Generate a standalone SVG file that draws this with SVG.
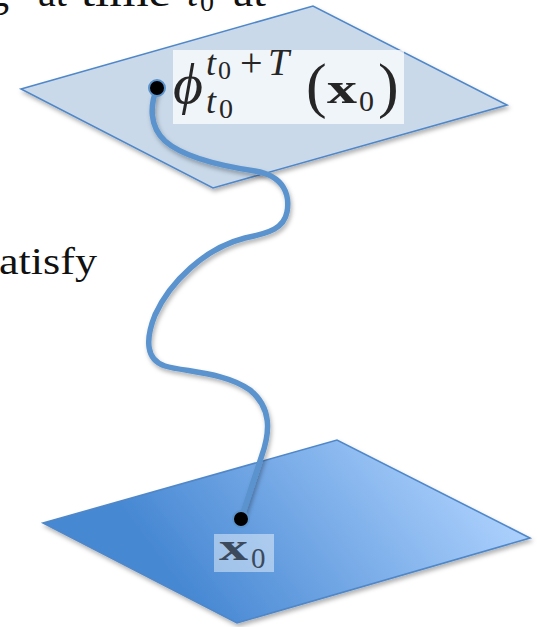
<svg xmlns="http://www.w3.org/2000/svg" width="538" height="627" viewBox="0 0 538 627">
  <defs>
    <linearGradient id="gBottom" gradientUnits="userSpaceOnUse" x1="210" y1="625" x2="450" y2="445">
      <stop offset="0" stop-color="#4788d3"/>
      <stop offset="1" stop-color="#aacffc"/>
    </linearGradient>
    <filter id="shadow" x="-10%" y="-10%" width="130%" height="130%">
      <feDropShadow dx="1.5" dy="3" stdDeviation="2" flood-color="#000" flood-opacity="0.3"/>
    </filter>
  </defs>
  <style>
    .plane { stroke: #4f87c8; stroke-width: 1.6; stroke-linejoin: miter; }
    .curve { fill: none; stroke: #5a93cd; stroke-width: 5.5; stroke-linecap: round; }
    .dot { fill: #000; stroke: #5a93cd; stroke-width: 2; }
    .serif { font-family: "Liberation Serif", "DejaVu Serif", serif; fill: #111; }
    .lbl { font-family: "Liberation Serif", "DejaVu Serif", serif; fill: #262626; }
    .it { font-style: italic; }
    .bf { font-weight: bold; }
  </style>
  <rect width="538" height="627" fill="#fff"/>

  <g id="background-text">
    <text class="serif" x="-11" y="6" font-size="40">g</text>
    <text class="serif" x="38" y="6" font-size="40">at</text>
    <text class="serif" x="81" y="6" font-size="40" textLength="90" lengthAdjust="spacingAndGlyphs">time</text>
    <text class="serif it" x="187" y="6" font-size="40">t</text>
    <text class="serif" x="200" y="11" font-size="28">0</text>
    <text class="serif" x="233" y="6" font-size="40" textLength="33" lengthAdjust="spacingAndGlyphs">at</text>
    <text class="serif" x="-1" y="274" font-size="38" textLength="98" lengthAdjust="spacingAndGlyphs">atisfy</text>
  </g>

  <g id="plane-bottom">
    <polygon class="plane" points="43,523 337,440 530,538 237,623" fill="url(#gBottom)" filter="url(#shadow)"/>
  </g>

  <g id="plane-top">
    <polygon class="plane" points="21,89 313,6 507,105 213,188" fill="#c9d9ea" filter="url(#shadow)"/>
  </g>

  <g id="connectors">
    <path class="curve" filter="url(#shadow)" d="M157,88 C150,105 149,126 165,141 C182,156 215,165 255,171 C285,176 290,196 287,212 C284,228 270,233 245,238 C205,248 170,282 155,315 C145,340 146,360 165,366 C185,372 225,372 250,390 C272,408 270,432 262,455 L241,519"/>
  </g>

  <g id="node-top-point">
    <circle class="dot" cx="157" cy="88" r="8"/>
  </g>
  <g id="node-bottom-point">
    <circle class="dot" cx="241" cy="519" r="8"/>
  </g>

  <g id="label-top">
    <rect x="173" y="50" width="231" height="74" fill="#ffffff" fill-opacity="0.72"/>
    <text class="lbl it" x="173" y="103" font-size="56" textLength="30" lengthAdjust="spacingAndGlyphs">ϕ</text>
    <text class="lbl it" x="206" y="75" font-size="36">t</text>
    <text class="lbl" x="218" y="79" font-size="26">0</text>
    <text class="lbl" x="240" y="76" font-size="40">+</text>
    <text class="lbl it" x="268" y="75" font-size="38">T</text>
    <text class="lbl it" x="206" y="113" font-size="36">t</text>
    <text class="lbl" x="219" y="118" font-size="28">0</text>
    <text class="lbl" x="306" y="106" font-size="62">(</text>
    <text class="lbl bf" x="327" y="103" font-size="44" textLength="30" lengthAdjust="spacingAndGlyphs">x</text>
    <text class="lbl" x="359" y="111" font-size="30">0</text>
    <text class="lbl" x="378" y="106" font-size="62">)</text>
  </g>

  <g id="label-bottom">
    <rect x="214" y="534" width="60" height="38" fill="#ffffff" fill-opacity="0.45"/>
    <text class="lbl bf" x="219" y="560" font-size="38" style="fill:#3b4a5c" textLength="29" lengthAdjust="spacingAndGlyphs">x</text>
    <text class="lbl" x="251" y="568" font-size="29" style="fill:#3b4a5c">0</text>
  </g>
</svg>
